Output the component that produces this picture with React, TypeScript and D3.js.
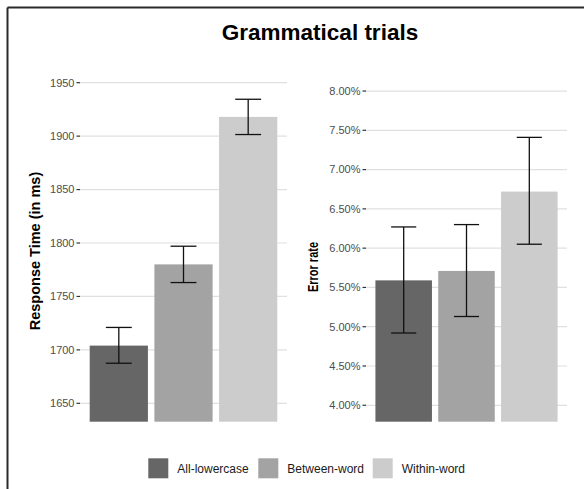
import React from "react";
import * as d3 from "d3";

const categories = ["All-lowercase", "Between-word", "Within-word"];
const rtMean = [1704, 1780, 1918];
const rtLow = [1687.5, 1763, 1901.5];
const rtHigh = [1721, 1797, 1934.5];
const rtTicks = [1650, 1700, 1750, 1800, 1850, 1900, 1950];

const errMean = [0.0559, 0.0571, 0.0672];
const errLow = [0.0492, 0.0513, 0.0605];
const errHigh = [0.0627, 0.063, 0.0741];
const errTicks = [0.04, 0.045, 0.05, 0.055, 0.06, 0.065, 0.07, 0.075, 0.08];

const colors = ["#666666", "#a3a3a3", "#cccccc"];
const FONT = "'Liberation Sans', Arial, sans-serif";

type PanelProps = {
  x0: number;
  x1: number;
  yDomain: [number, number];
  mean: number[];
  low: number[];
  high: number[];
  ticks: number[];
  fmt: (v: number) => string;
  title: string;
  titleX: number;
  titleY: number;
  titleSize: number;
  titleLength?: number;
  tickSize: number;
};

const Panel = (p: PanelProps) => {
  const top = 75;
  const bottom = 421.7;
  const x = d3.scaleBand<string>().domain(categories).range([p.x0, p.x1]).paddingInner(0.1).paddingOuter(0.15);
  const y = d3.scaleLinear().domain(p.yDomain).range([bottom, top]);
  const step = x.step();
  return (
    <g>
      {p.ticks.map((t) => (
        <g key={t}>
          <line x1={p.x0} x2={p.x1} y1={y(t)} y2={y(t)} stroke="#e0e0e0" strokeWidth={1.2} />
          <line x1={p.x0 - 3.5} x2={p.x0} y1={y(t)} y2={y(t)} stroke="#333" strokeWidth={1.2} />
          <text x={p.x0 - 5.5} y={y(t)} dy="0.35em" textAnchor="end" fontSize={p.tickSize} fill="#4d4d4d" fontFamily={FONT}>
            {p.fmt(t)}
          </text>
        </g>
      ))}
      {categories.map((c, i) => {
        const bx = x(c)!;
        const cx = bx + x.bandwidth() / 2;
        const cw = step * 0.2;
        return (
          <g key={c}>
            <rect x={bx} y={y(p.mean[i])} width={x.bandwidth()} height={bottom - y(p.mean[i])} fill={colors[i]} />
            <line x1={cx} x2={cx} y1={y(p.low[i])} y2={y(p.high[i])} stroke="#111" strokeWidth={1.3} />
            <line x1={cx - cw} x2={cx + cw} y1={y(p.low[i])} y2={y(p.low[i])} stroke="#111" strokeWidth={1.3} />
            <line x1={cx - cw} x2={cx + cw} y1={y(p.high[i])} y2={y(p.high[i])} stroke="#111" strokeWidth={1.3} />
          </g>
        );
      })}
      <text
        transform={`translate(${p.titleX},${p.titleY}) rotate(-90)`}
        textAnchor="middle"
        fontSize={p.titleSize}
        fontWeight="bold"
        fill="#000"
        fontFamily={FONT}
        {...(p.titleLength ? { textLength: p.titleLength, lengthAdjust: "spacingAndGlyphs" } : {})}
      >
        {p.title}
      </text>
    </g>
  );
};

const legendX = [148.3, 258.3, 372.7];

export default function App() {
  const pct = d3.format(".2%");
  return (
    <svg width={584} height={489} style={{ position: "absolute", left: 0, top: 0, background: "#fff" }}>
      <rect x={0} y={0} width={584} height={489} fill="#fff" />
      <line x1={7.5} x2={584} y1={7.5} y2={7.5} stroke="#2b2b2b" strokeWidth={2} />
      <line x1={7.5} x2={7.5} y1={7.5} y2={489} stroke="#2b2b2b" strokeWidth={2} />
      <text x={320} y={40} textAnchor="middle" fontSize={22.5} fontWeight="bold" fontFamily={FONT} fill="#000">
        Grammatical trials
      </text>
      <Panel
        x0={80}
        x1={287}
        yDomain={[1632.8, 1957.2]}
        mean={rtMean}
        low={rtLow}
        high={rtHigh}
        ticks={rtTicks}
        fmt={(v) => String(v)}
        title="Response Time (in ms)"
        titleX={39.5}
        titleY={251}
        titleSize={14.5}
        tickSize={11}
      />
      <Panel
        x0={366}
        x1={567}
        yDomain={[0.03791, 0.08204]}
        mean={errMean}
        low={errLow}
        high={errHigh}
        ticks={errTicks}
        fmt={pct}
        title="Error rate"
        titleX={318}
        titleY={267}
        titleSize={14}
        titleLength={50}
        tickSize={11}
      />
      {categories.map((c, i) => (
        <g key={c}>
          <rect x={legendX[i]} y={458.3} width={20} height={20} fill={colors[i]} />
          <text x={legendX[i] + 29} y={468.3} dy="0.35em" fontSize={12} fill="#1a1a1a" fontFamily={FONT}>
            {c}
          </text>
        </g>
      ))}
    </svg>
  );
}
